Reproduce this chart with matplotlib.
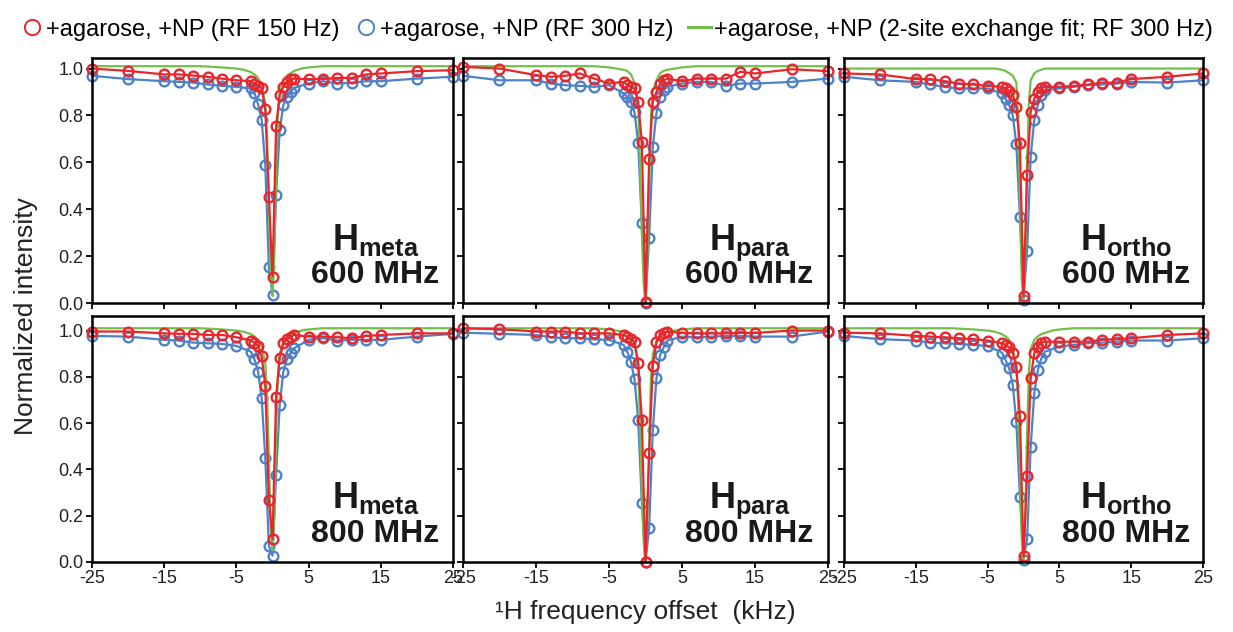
import numpy as np
import matplotlib
matplotlib.use('Agg')
import matplotlib.pyplot as plt
from matplotlib.lines import Line2D

plt.rcParams['font.family'] = ['Liberation Sans', 'DejaVu Sans']
plt.rcParams['mathtext.fontset'] = 'custom'
plt.rcParams['mathtext.bf'] = 'Liberation Sans:bold'
plt.rcParams['mathtext.rm'] = 'Liberation Sans'
plt.rcParams['axes.unicode_minus'] = False

# offsets (kHz) of the measured points
offsets = [-25, -20, -15, -13, -11, -9, -7, -5, -3, -2.5, -2, -1.5, -1, -0.5, 0,
           0.5, 1, 1.5, 2, 2.5, 3, 5, 7, 9, 11, 13, 15, 20, 25]
# offsets of the read-off fit curve
fit_offsets = [-25, -15, -10, -7, -5, -4, -3, -2.5, -2, -1.5, -1, -0.75, -0.5, -0.25, 0,
               0.25, 0.5, 0.75, 1, 1.5, 2, 2.5, 3, 4, 5, 7, 10, 15, 25]

meta600_rf150 = [1.0, 0.99, 0.975, 0.975, 0.97, 0.965, 0.957, 0.95, 0.946, 0.936, 0.926, 0.915,
                 0.827, 0.454, 0.113, 0.755, 0.887, 0.922, 0.943, 0.955, 0.957, 0.955, 0.955,
                 0.96, 0.96, 0.975, 0.979, 0.989, 0.993]
meta600_rf300 = [0.969, 0.955, 0.946, 0.943, 0.94, 0.932, 0.926, 0.922, 0.915, 0.895, 0.847, 0.78,
                 0.589, 0.152, 0.033, 0.461, 0.738, 0.844, 0.88, 0.9, 0.918, 0.936, 0.946,
                 0.936, 0.94, 0.946, 0.946, 0.957, 0.965]
meta600_fit = [1.01, 1.01, 1.01, 1.005, 1.0, 0.995, 0.985, 0.975, 0.96, 0.93, 0.85, 0.7, 0.42,
               0.12, 0.03, 0.2, 0.55, 0.8, 0.9, 0.95, 0.97, 0.98, 0.99, 1.0, 1.005, 1.01, 1.01,
               1.01, 1.01]

para600_rf150 = [1.007, 1.0, 0.972, 0.965, 0.969, 0.979, 0.957, 0.936, 0.943, 0.93, 0.922, 0.915,
                 0.858, 0.685, 0.004, 0.614, 0.858, 0.9, 0.936, 0.95, 0.957, 0.946, 0.957,
                 0.957, 0.957, 0.986, 0.979, 0.997, 0.989]
para600_rf300 = [0.969, 0.95, 0.95, 0.936, 0.929, 0.926, 0.922, 0.929, 0.894, 0.879, 0.858, 0.813,
                 0.681, 0.34, 0.0, 0.279, 0.667, 0.809, 0.879, 0.908, 0.922, 0.936, 0.943,
                 0.943, 0.926, 0.936, 0.936, 0.943, 0.957]
para600_fit = [1.01, 1.01, 1.01, 1.01, 1.005, 1.0, 0.995, 0.99, 0.975, 0.94, 0.85, 0.6, 0.3,
               0.08, 0.0, 0.2, 0.5, 0.8, 0.9, 0.95, 0.98, 0.99, 0.995, 1.0, 1.005, 1.01, 1.01,
               1.01, 1.01]

ortho600_rf150 = [0.979, 0.975, 0.955, 0.955, 0.946, 0.936, 0.932, 0.926, 0.922, 0.915, 0.905,
                  0.889, 0.837, 0.681, 0.028, 0.546, 0.816, 0.872, 0.9, 0.915, 0.922, 0.922,
                  0.926, 0.932, 0.94, 0.94, 0.955, 0.965, 0.979]
ortho600_rf300 = [0.965, 0.95, 0.943, 0.932, 0.922, 0.915, 0.915, 0.915, 0.894, 0.872, 0.844,
                  0.801, 0.677, 0.366, 0.014, 0.22, 0.624, 0.78, 0.844, 0.887, 0.908, 0.915,
                  0.922, 0.929, 0.932, 0.936, 0.943, 0.94, 0.95]
ortho600_fit = [1.0, 1.0, 1.0, 1.0, 1.0, 1.0, 0.995, 0.99, 0.98, 0.97, 0.94, 0.8, 0.45, 0.1,
                0.01, 0.2, 0.6, 0.85, 0.95, 0.98, 0.99, 0.995, 1.0, 1.0, 1.0, 1.0, 1.0, 1.0, 1.0]

meta800_rf150 = [0.996, 0.996, 0.988, 0.986, 0.986, 0.981, 0.981, 0.971, 0.957, 0.948, 0.935,
                 0.888, 0.761, 0.266, 0.099, 0.715, 0.883, 0.945, 0.963, 0.974, 0.981, 0.974,
                 0.974, 0.971, 0.967, 0.977, 0.981, 0.988, 0.988]
meta800_rf300 = [0.977, 0.974, 0.96, 0.957, 0.948, 0.945, 0.942, 0.934, 0.909, 0.876, 0.823,
                 0.708, 0.449, 0.07, 0.027, 0.377, 0.679, 0.823, 0.876, 0.902, 0.924, 0.96,
                 0.967, 0.957, 0.96, 0.96, 0.96, 0.974, 0.986]
meta800_fit = [1.01, 1.01, 1.01, 1.005, 1.0, 0.995, 0.985, 0.975, 0.96, 0.93, 0.86, 0.72, 0.45,
               0.15, 0.05, 0.2, 0.55, 0.8, 0.9, 0.95, 0.97, 0.98, 0.99, 1.0, 1.005, 1.01, 1.01,
               1.01, 1.01]

para800_rf150 = [1.01, 1.006, 0.996, 0.996, 0.996, 0.988, 0.988, 0.988, 0.981, 0.974, 0.962,
                 0.952, 0.861, 0.613, 0.0, 0.469, 0.847, 0.952, 0.981, 0.99, 0.996, 0.99,
                 0.988, 0.988, 0.988, 0.99, 0.99, 1.0, 1.0]
para800_rf300 = [0.991, 0.986, 0.981, 0.971, 0.967, 0.967, 0.962, 0.96, 0.938, 0.909, 0.866,
                 0.789, 0.613, 0.253, 0.0, 0.149, 0.57, 0.794, 0.895, 0.928, 0.957, 0.974,
                 0.971, 0.974, 0.977, 0.977, 0.974, 0.974, 0.996]
para800_fit = [1.01, 1.01, 1.01, 1.01, 1.005, 1.0, 0.995, 0.99, 0.975, 0.94, 0.85, 0.6, 0.3,
               0.08, 0.0, 0.2, 0.5, 0.8, 0.9, 0.95, 0.98, 0.99, 0.995, 1.0, 1.005, 1.01, 1.01,
               1.01, 1.01]

ortho800_rf150 = [0.991, 0.988, 0.977, 0.974, 0.971, 0.967, 0.963, 0.957, 0.945, 0.938, 0.928,
                  0.905, 0.842, 0.629, 0.024, 0.373, 0.794, 0.902, 0.931, 0.948, 0.952, 0.952,
                  0.952, 0.952, 0.96, 0.963, 0.967, 0.981, 0.988]
ortho800_rf300 = [0.977, 0.963, 0.957, 0.948, 0.945, 0.942, 0.938, 0.934, 0.905, 0.873, 0.837,
                  0.765, 0.607, 0.281, 0.01, 0.099, 0.499, 0.729, 0.83, 0.881, 0.909, 0.931,
                  0.938, 0.945, 0.948, 0.952, 0.957, 0.957, 0.967]
ortho800_fit = [1.01, 1.01, 1.01, 1.005, 1.0, 0.995, 0.985, 0.975, 0.96, 0.93, 0.85, 0.7, 0.42,
                0.1, 0.0, 0.2, 0.55, 0.82, 0.92, 0.96, 0.975, 0.985, 0.99, 1.0, 1.005, 1.01,
                1.01, 1.01, 1.01]

site_names = ['meta', 'para', 'ortho', 'meta', 'para', 'ortho']
field_names = ['600 MHz', '600 MHz', '600 MHz', '800 MHz', '800 MHz', '800 MHz']
rf150_sets = [meta600_rf150, para600_rf150, ortho600_rf150, meta800_rf150, para800_rf150, ortho800_rf150]
rf300_sets = [meta600_rf300, para600_rf300, ortho600_rf300, meta800_rf300, para800_rf300, ortho800_rf300]
fit_sets = [meta600_fit, para600_fit, ortho600_fit, meta800_fit, para800_fit, ortho800_fit]

legend_labels = ['+agarose, +NP (RF 150 Hz)', '+agarose, +NP (RF 300 Hz)',
                 '+agarose, +NP (2-site exchange fit; RF 300 Hz)']
xticks = [-25, -15, -5, 5, 15, 25]
yticks = [0.0, 0.2, 0.4, 0.6, 0.8, 1.0]

RED = '#e8262b'
BLUE = '#4f81c7'
GREEN = '#72c04a'

W, H = 1233, 632
fig = plt.figure(figsize=(W / 100, H / 100), dpi=100)

col_px = [(92, 453), (463, 828), (844, 1203)]
row_px = [(58, 303, 1.045), (316, 562, 1.063)]

for i in range(6):
    r, c = divmod(i, 3)
    x0, x1 = col_px[c]
    y0, y1, ytop = row_px[r]
    ax = fig.add_axes([x0 / W, 1 - y1 / H, (x1 - x0) / W, (y1 - y0) / H])

    ax.plot(offsets, rf300_sets[i], '-o', color=BLUE, lw=1.6, ms=7, mfc='none',
            mec=BLUE, mew=1.7, clip_on=False, zorder=3)
    ax.plot(fit_offsets, fit_sets[i], '-', color=GREEN, lw=1.6, zorder=4)
    ax.plot(offsets, rf150_sets[i], '-o', color=RED, lw=1.6, ms=7, mfc='none',
            mec=RED, mew=1.7, clip_on=False, zorder=5)

    ax.set_xlim(-25, 25)
    ax.set_ylim(0, ytop)
    ax.set_xticks(xticks)
    ax.set_yticks(yticks)
    for s in ax.spines.values():
        s.set_linewidth(1.8)
        s.set_zorder(6)
    ax.tick_params(direction='out', length=4, width=1.3, labelsize=13,
                   labelcolor='#222222', pad=2)
    if r == 1:
        ax.set_xticklabels([str(t) for t in xticks])
    else:
        ax.set_xticklabels([])
    if c == 0:
        ax.set_yticklabels(['%.1f' % t for t in yticks])
    else:
        ax.set_yticklabels([])

    ax.text(0.785, 0.218, r'$\mathbf{H}_{\mathbf{%s}}$' % site_names[i], transform=ax.transAxes,
            ha='center', va='baseline', fontsize=26, color='#1a1a1a')
    ax.text(0.785, 0.083, field_names[i], transform=ax.transAxes, ha='center',
            va='baseline', fontsize=23, fontweight='bold', color='#1a1a1a')

fig.text(0.021, 0.50, 'Normalized intensity', rotation=90, ha='center', va='center',
         fontsize=19, color='#222222')
fig.text(0.523, 0.032, '\u00b9H frequency offset  (kHz)', ha='center', va='center',
         fontsize=19, color='#222222')

handles = [Line2D([], [], ls='none', marker='o', ms=11, mfc='none', mec=RED, mew=1.4),
           Line2D([], [], ls='none', marker='o', ms=11, mfc='none', mec=BLUE, mew=1.4),
           Line2D([], [], color=GREEN, lw=2.2)]
fig.legend(handles, legend_labels, loc='center', bbox_to_anchor=(0.5, 0.953), ncol=3,
           frameon=False, fontsize=17, handlelength=1.0, handletextpad=0.1,
           columnspacing=0.6, borderaxespad=0)

fig.savefig('out.png', dpi=100)
